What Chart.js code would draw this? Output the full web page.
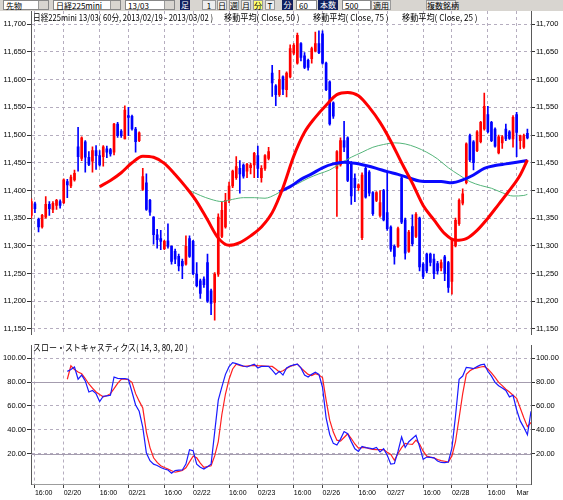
<!DOCTYPE html>
<html><head><meta charset="utf-8">
<script src="https://cdn.jsdelivr.net/npm/chart.js@4.4.0/dist/chart.umd.min.js"></script>
<style>
html,body{margin:0;padding:0;background:#fff;width:563px;height:500px;overflow:hidden;position:relative;font-family:"Noto Sans CJK JP",sans-serif;}
#tb{position:absolute;left:0;top:0;width:563px;height:11px;background:#d8d5d0;overflow:hidden;z-index:3;}
#tb div{position:absolute;top:0;height:10px;font-size:8px;line-height:10px;white-space:nowrap;box-sizing:border-box;}
.dd{background:#fff;border:1px solid #888;padding-left:2px;}
.dd i{position:absolute;right:0;top:0;width:9px;height:8px;background:#d8d5d0;border-left:1px solid #999;}
.nv{background:#102060;color:#fff;text-align:center;}
.bt{background:#eeeeee;border:1px solid #999;text-align:center;}
.tx{position:absolute;white-space:nowrap;font-size:9px;line-height:9px;color:#000;transform-origin:0 0;z-index:3;}
canvas{position:absolute;left:0;}
#c1{top:0;}
#c2{top:340px;}
</style>
</head><body>
<div id="tb">
  <div class="dd" style="left:3px;width:46px">先物<i></i></div>
  <div class="dd" style="left:53px;width:68px">日経225mini<i></i></div>
  <div class="dd" style="left:125px;width:50px">13/03<i></i></div>
  <div class="nv" style="left:180px;width:10px">足</div>
  <div class="bt" style="left:202px;width:14px">1</div>
  <div class="bt" style="left:217px;width:10px">日</div>
  <div class="bt" style="left:229px;width:10px">週</div>
  <div class="bt" style="left:241px;width:10px">月</div>
  <div class="bt" style="left:253px;width:10px;background:#ffff70">分</div>
  <div class="bt" style="left:265px;width:10px">T</div>
  <div class="nv" style="left:282px;width:11px">分</div>
  <div class="dd" style="left:296px;width:21px">60</div>
  <div class="nv" style="left:318px;width:20px">本数</div>
  <div class="dd" style="left:342px;width:29px">500</div>
  <div class="bt" style="left:371px;width:20px">適用</div>
  <div class="bt" style="left:426px;width:30px">複数銘柄</div>
</div>
<div class="tx" id="t1" style="left:33px;top:13px">日経225mini 13/03( 60分, 2013/02/19 - 2013/03/02 )</div>
<div class="tx" id="t2" style="left:224px;top:13px">移動平均( Close, 50 )</div>
<div class="tx" id="t3" style="left:313px;top:13px">移動平均( Close, 75 )</div>
<div class="tx" id="t4" style="left:402px;top:13px">移動平均( Close, 25 )</div>
<div class="tx" id="t5" style="left:33px;top:343px">スロー・ストキャスティクス( 14, 3, 80, 20 )</div>
<canvas id="c1" width="563" height="340"></canvas>
<canvas id="c2" width="563" height="160"></canvas>
<script>
// ---------- categories (60-minute bars) ----------
const FULL = [0,1,2,9,10,11,12,13,14,15,16,17,18,19,20,21,22,23];
const tradingDays = [
  ["02/19",[15,16,17,18,19,20,21,22,23]],
  ["02/20",FULL],["02/21",FULL],["02/22",FULL],
  ["02/23",[0,1,2]],
  ["02/25",[9,10,11,12,13,14,15,16,17,18,19,20,21,22,23]],
  ["02/26",FULL],["02/27",FULL],["02/28",FULL],
  ["03/01",[0,1,2,9,10]]
];
const categories = tradingDays.flatMap(([d,hs]) => hs.map(h => d + " " + String(h).padStart(2,"0") + ":00"));

// x tick labels (bar index -> label)
const tickIdx    = [1,9,19,27,37,45,55,63,73,81,91,99,109,117,127,135];
const tickLabels = ["16:00","02/20","16:00","02/21","16:00","02/22","16:00","02/23","16:00","02/26","16:00","02/27","16:00","02/28","16:00","Mar"];

const priceTicks = [11150,11200,11250,11300,11350,11400,11450,11500,11550,11600,11650,11700];
const stochTicks = [20,40,60,80,100];
const stochLevels = [80,20];

// ---------- OHLC ----------
const open = [11355,11376,11348,11334,11352,11375,11366,11373,11380,11378,
11416,11408,11419,11479,11458,11488,11460,11453,11472,11463,
11461,11475,11474,11469,11520,11507,11493,11535,11534,11511,
11490,11402,11414,11382,11352,11320,11313,11295,11309,11299,
11290,11281,11272,11267,11313,11308,11249,11237,11240,11270,
11219,11198,11249,11317,11334,11382,11408,11423,11440,11446,
11435,11441,11446,11463,11423,11440,11458,11612,11589,11573,
11605,11582,11605,11648,11630,11665,11643,11635,11638,11652,
11665,11683,11630,11596,11558,11440,11446,11490,11495,11450,
11422,11405,11315,11440,11433,11396,11382,11355,11400,11360,
11334,11299,11299,11423,11347,11290,11335,11317,11350,11267,
11285,11285,11276,11268,11260,11280,11270,11236,11300,11340,
11377,11414,11499,11488,11472,11488,11511,11537,11523,11511,
11468,11486,11511,11506,11493,11537,11490,11478,11503];
const high = [11385,11379,11350,11357,11389,11380,11380,11384,11383,11421,
11420,11428,11437,11514,11497,11490,11470,11479,11481,11472,
11481,11480,11476,11521,11523,11510,11553,11550,11536,11514,
11506,11440,11430,11384,11353,11330,11328,11310,11340,11300,
11294,11285,11276,11318,11318,11310,11270,11240,11244,11285,
11222,11252,11358,11380,11395,11415,11437,11461,11454,11448,
11449,11449,11469,11480,11445,11465,11478,11626,11591,11617,
11607,11614,11663,11665,11684,11667,11649,11637,11659,11686,
11688,11688,11632,11598,11560,11472,11495,11525,11497,11452,
11430,11412,11432,11442,11436,11398,11398,11400,11402,11435,
11336,11302,11334,11425,11350,11328,11356,11360,11352,11270,
11287,11287,11285,11272,11275,11283,11272,11313,11350,11385,
11403,11486,11502,11490,11508,11525,11576,11552,11525,11513,
11500,11499,11520,11508,11535,11541,11500,11502,11511];
const low = [11350,11360,11325,11332,11350,11355,11360,11366,11368,11376,
11387,11405,11417,11435,11454,11433,11445,11433,11438,11444,
11444,11459,11462,11464,11496,11496,11493,11499,11509,11469,
11488,11400,11364,11355,11303,11296,11293,11293,11296,11267,
11268,11255,11241,11265,11279,11248,11226,11205,11225,11198,
11176,11166,11245,11315,11332,11378,11405,11420,11395,11422,
11423,11430,11423,11423,11415,11436,11455,11570,11553,11570,
11573,11569,11603,11645,11628,11634,11620,11617,11630,11650,
11647,11628,11580,11518,11530,11353,11444,11470,11416,11375,
11380,11400,11311,11386,11390,11355,11380,11352,11345,11328,
11290,11267,11297,11340,11276,11288,11300,11315,11255,11241,
11251,11264,11241,11249,11255,11237,11216,11213,11298,11337,
11374,11412,11452,11437,11470,11486,11509,11504,11488,11478,
11466,11476,11490,11492,11478,11461,11475,11476,11493];
const close = [11380,11367,11334,11355,11375,11367,11377,11382,11373,11419,
11410,11424,11431,11461,11495,11460,11447,11472,11463,11446,
11479,11469,11466,11520,11499,11499,11545,11532,11511,11488,
11504,11425,11366,11361,11320,11311,11308,11308,11299,11272,
11276,11264,11264,11299,11281,11250,11228,11214,11230,11200,
11196,11249,11352,11364,11382,11408,11435,11443,11430,11426,
11447,11446,11467,11440,11440,11463,11470,11594,11573,11600,
11583,11612,11656,11662,11680,11640,11622,11622,11656,11665,
11649,11630,11582,11520,11534,11470,11490,11478,11418,11390,
11405,11410,11428,11388,11395,11358,11396,11378,11347,11331,
11294,11281,11331,11343,11287,11325,11304,11357,11262,11245,
11255,11270,11250,11255,11270,11250,11225,11311,11346,11382,
11394,11484,11455,11450,11506,11523,11552,11506,11490,11480,
11497,11497,11493,11494,11532,11505,11499,11499,11495];

// ---------- moving averages (read at bar indices) ----------
const ma25At = [19,22,25,28,31,34,37,40,43,46,49,52,55,58,61,64,67,70,73,76,79,82,85,88,91,94,97,100,103,106,109,112,115,118,121,124,127,130,133,136,138];
const ma25   = [11407,11418,11432,11450,11462,11460,11449,11429,11406,11380,11347,11314,11301,11306,11318,11334,11360,11405,11462,11505,11532,11554,11573,11577,11571,11550,11523,11489,11450,11413,11373,11347,11322,11310,11313,11328,11350,11375,11400,11428,11455];
const ma50At = [44,47,50,53,56,59,62,65,68,71,74,77,80,83,86,89,92,95,98,101,104,107,110,113,116,119,122,125,128,131,134,137,138];
const ma50   = [11400,11391,11384,11380,11384,11387,11387,11386,11393,11404,11412,11422,11430,11437,11449,11460,11469,11478,11483,11486,11484,11478,11469,11457,11441,11428,11416,11409,11404,11396,11390,11391,11393];
const ma75At = [69,72,75,78,81,84,87,90,93,96,99,102,105,108,111,114,117,120,123,126,129,132,135,138];
const ma75   = [11398,11407,11420,11430,11441,11448,11451,11449,11445,11440,11434,11429,11423,11417,11416,11416,11414,11419,11428,11440,11445,11448,11451,11454];

// ---------- slow stochastics (from bar 10) ----------
const stochStart = 10;
const stochK = [89,90.5,92.7,82.4,85.9,81,71.7,73,70.3,63.6,
68.1,68.5,68.9,84.3,83.2,83,83,82.4,71.7,60.8,
55.5,42,20.4,14,11.1,10,8.3,7,6.2,3.5,
5.7,6,6.2,11.1,23.2,22.4,11.1,8.5,7,8.9,
11.1,38,64.9,76,86.5,93,96.4,95.5,94.5,93.5,
92.7,94,95.1,91.9,93.2,93.2,93.2,90,86.5,89,
85.9,91.9,93.5,94.5,95.1,91.9,86,84.3,86.5,88.3,
86.5,75.7,50,36,28.5,27.2,32.1,38.5,36.6,30,
24,21.8,25.9,25,24.5,24,25.1,21.3,24,18.6,
11.1,11.6,21.8,33.9,25.1,29.9,32.6,35.3,25.9,15.1,
17,16.8,16.4,13.7,12.5,12.4,12.9,24.5,51.5,82.4,
85.1,92.4,92,91.3,93,94.5,95.1,89.1,85,79.8,
77,75,73,67.6,68.9,56.8,47.4,42,35.8,55.5];
const stochD = [82.4,93.7,90.5,88.5,87,83,78.4,75,71.7,69.5,
67.6,68.5,70.3,74.5,79,82.4,82.4,82,79.8,70.3,
64,58.2,38,25,16.4,12.5,9.7,8.3,7,5.5,
4.3,5,5.7,8,13,17.8,16.4,12,8.3,9,
9.7,18,30,52.8,70,82.4,91,95.1,94,93.2,
93.5,93.8,94,93.8,93.7,93.5,93.3,93.2,91,88.5,
89.5,91.5,93.2,94.2,95.1,92,89.1,86.5,85.5,87,
86,83.8,64.9,48,38,31.2,30.4,33.5,36.6,32.6,
28,24.5,25,25.1,24,23.5,23.2,23.2,23.2,21,
19.2,14.3,20,25,28.5,28,27.7,31.2,28,22,
17.8,17,16.4,15,14,13.5,12.9,18,29.9,50,
70.3,86.5,89.5,91.3,92,92.7,93.2,91,87.8,84,
79.8,77,74,71.7,69,66.3,58.2,50,42.6,46.1];

// ---------- styling ----------
const UP = '#ff0000', DOWN = '#0000ff';
const GRID = '#b5adbf';
const tickFont = {family:'Liberation Sans', size:7.5};

const barIdx = open.map((_, i) => i);
const isUp = i => close[i] >= open[i];
const wickData = barIdx.map(i => ({x:i, y:[low[i], high[i]]}));
const bodyData = barIdx.map(i => ({x:i, y:[open[i], close[i]]}));
const candleColors = barIdx.map(i => isUp(i) ? UP : DOWN);
const pts = (at, vals) => at.map((x, k) => ({x, y: vals[k]}));
const stochPts = vals => vals.map((v, k) => ({x: stochStart + k, y: v}));

function xScale(showLabels){
  return {
    type:'linear', min:-0.1, max:139, offset:false,
    afterBuildTicks: s => { s.ticks = tickIdx.map(v => ({value:v})); },
    afterFit: s => { s.height = showLabels ? 16 : 0; },
    ticks:{display:showLabels, autoSkip:false, maxRotation:0, minRotation:0, align:'start', padding:1,
           color:'#000', font:{family:'Liberation Sans', size:7},
           callback: v => tickLabels[tickIdx.indexOf(v)]},
    grid:{offset:false, color:GRID, lineWidth:1, drawTicks:showLabels, tickLength:4, tickColor:'#444'},
    border:{display:showLabels, color:'#9c9c9c', width:1, dash:[3,3]}
  };
}
function yScale(pos, min, max, ticks, fmt){
  return {
    type:'linear', position:pos, min, max,
    afterBuildTicks: s => { s.ticks = ticks.map(v => ({value:v})); },
    afterFit: s => { s.width = pos === 'left' ? 31 : 32; },
    ticks:{color:'#000', font:tickFont, padding:1, callback: fmt},
    grid:{color:GRID, lineWidth:1, drawOnChartArea: pos === 'left', drawTicks:true, tickLength:4, tickColor:'#333'},
    border:{display:true, color:'#5a5a5a', width:1, dash:[3,3]}
  };
}
const fmtPrice = v => Number(v).toLocaleString('en-US');
const fmtStoch = v => Number(v).toFixed(2);

const common = {
  responsive:false, animation:false, devicePixelRatio:1,
  plugins:{legend:{display:false}, tooltip:{enabled:false}}
};

new Chart(document.getElementById('c1'), {
  type:'bar',
  data:{datasets:[
    {type:'line', label:'移動平均( Close, 25 )', data:pts(ma25At, ma25), borderColor:'#ff0000', borderWidth:3, pointRadius:0, cubicInterpolationMode:'monotone', yAxisID:'y', order:0},
    {type:'line', label:'移動平均( Close, 75 )', data:pts(ma75At, ma75), borderColor:'#0a0aff', borderWidth:3, pointRadius:0, cubicInterpolationMode:'monotone', yAxisID:'y', order:1},
    {type:'line', label:'移動平均( Close, 50 )', data:pts(ma50At, ma50), borderColor:'#55b57a', borderWidth:1, pointRadius:0, cubicInterpolationMode:'monotone', yAxisID:'y', order:2},
    {label:'body', data:bodyData, backgroundColor:candleColors, barThickness:2, minBarLength:1, grouped:false, yAxisID:'y', order:3},
    {label:'wick', data:wickData, backgroundColor:candleColors, barThickness:1, grouped:false, yAxisID:'y', order:4}
  ]},
  options:{...common,
    layout:{padding:{top:11, left:0, right:0, bottom:0}},
    scales:{
      x: xScale(false),
      y: yScale('left', 11140, 11724, priceTicks, fmtPrice),
      yR: yScale('right', 11140, 11724, priceTicks, fmtPrice)
    }
  }
});

const levelLines = {
  id:'levelLines',
  beforeDatasetsDraw(chart){
    const {ctx, chartArea:{left, right}, scales:{y}} = chart;
    ctx.save(); ctx.strokeStyle = '#a49cae'; ctx.lineWidth = 1;
    stochLevels.forEach(v => {
      const py = Math.round(y.getPixelForValue(v)) + 0.5;
      ctx.beginPath(); ctx.moveTo(left, py); ctx.lineTo(right, py); ctx.stroke();
    });
    ctx.restore();
  }
};

new Chart(document.getElementById('c2'), {
  type:'line',
  data:{datasets:[
    {label:'%K', data:stochPts(stochK), borderColor:'#1a1aff', borderWidth:1.2, pointRadius:0, tension:0},
    {label:'%D', data:stochPts(stochD), borderColor:'#ff2020', borderWidth:1.2, pointRadius:0, tension:0}
  ]},
  options:{...common,
    layout:{padding:0},
    scales:{
      x: xScale(true),
      y: yScale('left', -5.6, 110.75, stochTicks, fmtStoch),
      yR: yScale('right', -5.6, 110.75, stochTicks, fmtStoch)
    }
  },
  plugins:[levelLines]
});

// fit header texts to their measured widths in the reference
const textWidths = {t1:180, t2:76, t3:76, t4:76, t5:155};
Object.entries(textWidths).forEach(([id, w]) => {
  const el = document.getElementById(id);
  el.style.transform = 'scaleX(' + (w / el.scrollWidth) + ')';
});
</script>
</body></html>
